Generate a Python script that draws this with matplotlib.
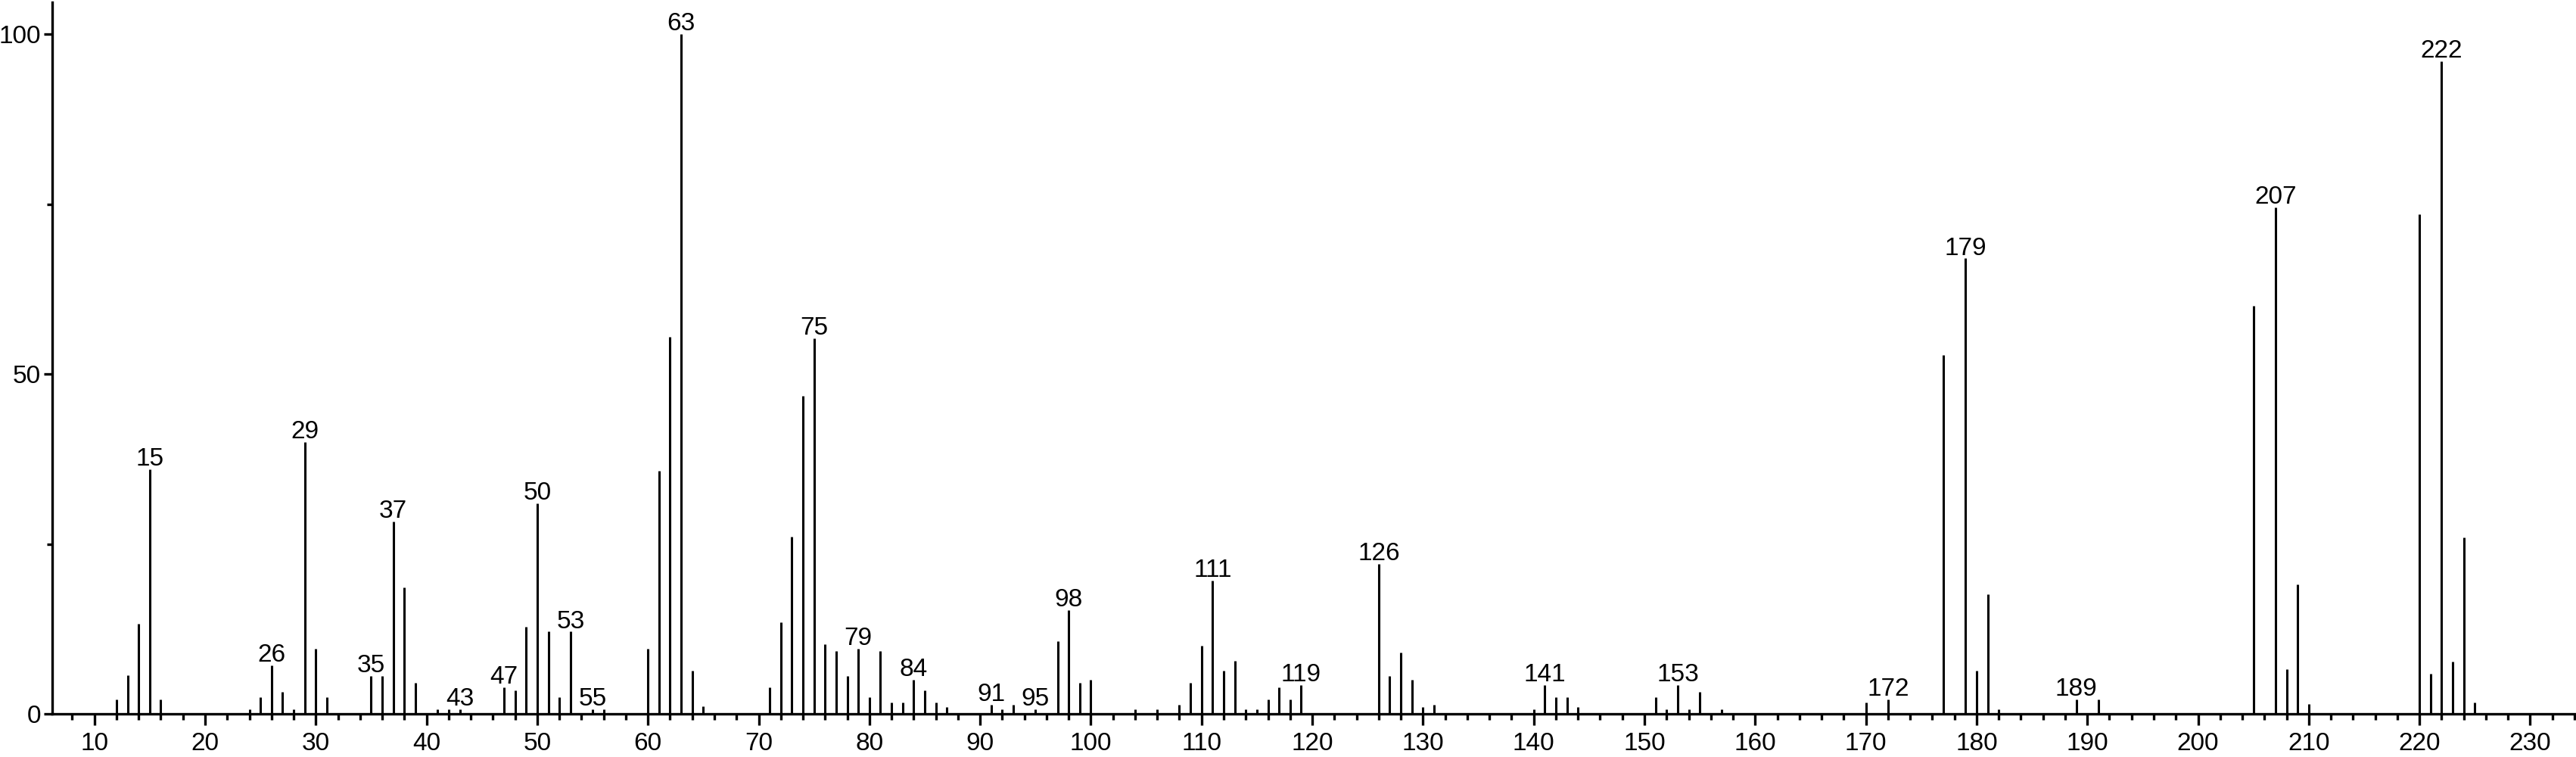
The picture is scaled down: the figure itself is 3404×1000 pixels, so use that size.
import matplotlib
matplotlib.use("Agg")
import matplotlib.pyplot as plt
from matplotlib.ticker import MultipleLocator

# m/z values and relative intensities
mz = [12, 13, 14, 15, 16, 24, 25, 26, 27, 28, 29, 30, 31, 35, 36, 37, 38, 39,
      41, 42, 43, 47, 48, 49, 50, 51, 52, 53, 55, 56, 60, 61, 62, 63, 64, 65,
      71, 72, 73, 74, 75, 76, 77, 78, 79, 80, 81, 82, 83, 84, 85, 86, 87,
      91, 92, 93, 95, 97, 98, 99, 100, 104, 106, 108, 109, 110, 111, 112, 113,
      114, 115, 116, 117, 118, 119, 126, 127, 128, 129, 130, 131,
      140, 141, 142, 143, 144, 151, 152, 153, 154, 155, 157, 170, 172,
      177, 179, 180, 181, 182, 189, 191, 205, 207, 208, 209, 210,
      220, 221, 222, 223, 224, 225]
intensity = [2.1, 5.7, 13.2, 36.0, 2.1, 0.7, 2.5, 7.1, 3.2, 0.7, 40.0, 9.6, 2.5, 5.6, 5.6, 28.3, 18.6, 4.6,
             0.7, 0.7, 0.7, 3.9, 3.5, 12.8, 31.0, 12.1, 2.5, 12.1, 0.7, 0.7, 9.6, 35.8, 55.5, 100.0, 6.4, 1.1,
             3.9, 13.5, 26.1, 46.8, 55.3, 10.3, 9.2, 5.6, 9.6, 2.5, 9.2, 1.7, 1.7, 5.0, 3.5, 1.7, 1.0,
             1.3, 0.7, 1.3, 0.7, 10.7, 15.3, 4.6, 5.0, 0.7, 0.7, 1.3, 4.6, 10.0, 19.6, 6.4, 7.8,
             0.7, 0.7, 2.1, 3.9, 2.1, 4.2, 22.1, 5.6, 9.0, 5.0, 1.0, 1.3,
             0.7, 4.2, 2.5, 2.5, 1.0, 2.5, 0.7, 4.2, 0.7, 3.2, 0.7, 1.7, 2.1,
             52.8, 67.0, 6.4, 17.6, 0.7, 2.1, 2.1, 60.0, 74.5, 6.6, 19.0, 1.5,
             73.5, 5.9, 96.0, 7.7, 26.0, 1.7]
labeled = [15, 26, 29, 35, 37, 43, 47, 50, 53, 55, 63, 75, 79, 84, 91, 95, 98,
           111, 119, 126, 141, 153, 172, 179, 189, 207, 222]

plt.rcParams['font.family'] = ['Liberation Sans', 'DejaVu Sans']

fig = plt.figure(figsize=(34.04, 10.0), dpi=100)
ax = fig.add_axes([0.0203, 0.057, 0.9791, 0.940])

ax.vlines(mz, 0, intensity, colors='black', linewidth=2.2, capstyle='butt')

lookup = dict(zip(mz, intensity))
for m in labeled:
    ax.annotate(str(m), (m, lookup[m]), xytext=(0, 3.5), textcoords='offset points',
                ha='center', va='baseline', fontsize=24)

ax.set_xlim(6.2, 234.0)
ax.set_ylim(0, 104.7)

for s in ['top', 'right']:
    ax.spines[s].set_visible(False)
for s in ['left', 'bottom']:
    ax.spines[s].set_linewidth(2.4)

ax.xaxis.set_major_locator(MultipleLocator(10))
ax.xaxis.set_minor_locator(MultipleLocator(2))
ax.yaxis.set_major_locator(MultipleLocator(50))
ax.yaxis.set_minor_locator(MultipleLocator(25))

ax.tick_params(axis='x', which='major', length=11, width=2.4, labelsize=24, pad=6)
ax.tick_params(axis='x', which='minor', length=6, width=2.4)
ax.tick_params(axis='y', which='major', length=8, width=2.4, labelsize=24, pad=3)
ax.tick_params(axis='y', which='minor', length=5, width=2.4)

fig.savefig('out.png', dpi=100)
